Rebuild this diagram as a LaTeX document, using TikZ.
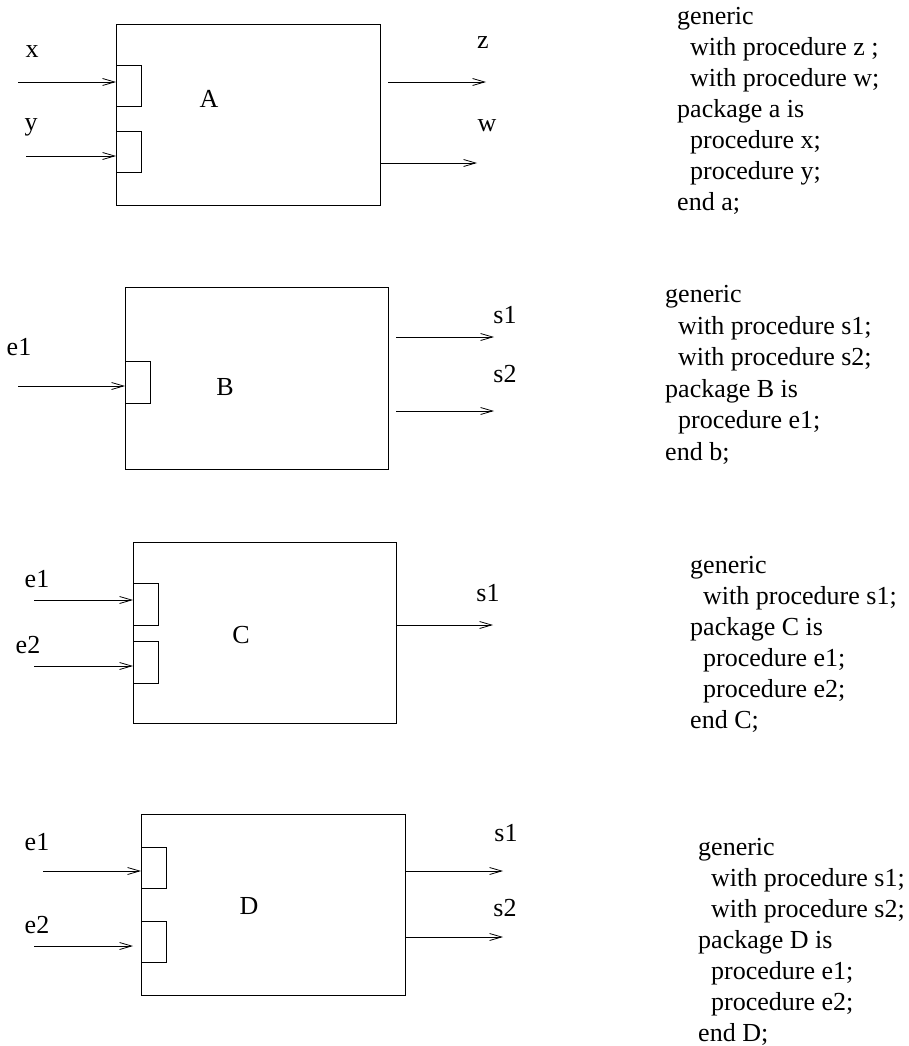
\documentclass[tikz,border=0pt]{standalone}
\usepackage{fontspec}
\setmainfont{Liberation Serif}
\usetikzlibrary{arrows.meta}
\newcommand{\ind}{\hspace*{13pt}}

\begin{document}
\begin{tikzpicture}[x=1pt,y=-1pt,
    blk/.style={draw,line width=.9pt,inner sep=0pt,anchor=north west},
    port/.style={blk,minimum width=25pt,minimum height=41pt},
    sig/.style={line width=.8pt,-{Straight Barb[length=12pt,width=7pt]}},
    lbl/.style={inner sep=0pt,font=\fontsize{26}{31}\selectfont},
    code/.style={inner sep=0pt,anchor=base west,align=left,font=\fontsize{26}{31}\selectfont}]

	\useasboundingbox (0,0) rectangle (909,1046);

	% package A
	\node[blk,minimum width=264pt,minimum height=181pt] (A) at (116,24) {};
	\node[port] (A1) at (116,65) {}; \node[port] (A2) at (116,131) {};
	\node[lbl] (labA) at (209,99) {A};
	\coordinate (xin) at (18,82); \coordinate (yin) at (26,156);
	\coordinate (zs) at (388,82); \coordinate (ze) at (486,82);
	\coordinate (we) at (477,163);
	\draw[sig] (xin) -- (xin -| A1.west); \draw[sig] (yin) -- (yin -| A2.west);
	\draw[sig] (zs) -- (ze); \draw[sig] (we -| A.east) -- (we);
	\node[lbl] (lx) at (32,52) {x}; \node[lbl] (ly) at (31,127) {y};
	\node[lbl] (lz) at (483,43) {z}; \node[lbl] (lw) at (487,126) {w};
	% base of a code block = baseline of its last line
	\node[code] (codeA) at (677,210) {generic\\ \ind with procedure z ;\\
        \ind with procedure w;\\ package a is\\ \ind procedure x;\\
        \ind procedure y;\\ end a;};

	% package B
	\node[blk,minimum width=263pt,minimum height=182pt] (B) at (125,287) {};
	\node[port,minimum height=42pt] (B1) at (125,361) {};
	\node[lbl] (labB) at (225,387) {B};
	\coordinate (bin) at (18,386);
	\coordinate (bs1) at (396,337); \coordinate (be1) at (494,337);
	\coordinate (bs2) at (396,411); \coordinate (be2) at (494,411);
	\draw[sig] (bin) -- (bin -| B1.west);
	\draw[sig] (bs1) -- (be1); \draw[sig] (bs2) -- (be2);
	\node[lbl] (lbe1) at (19,347) {e1};
	\node[lbl] (lbs1) at (505,315) {s1}; \node[lbl] (lbs2) at (505,374) {s2};
	\node[code,font=\fontsize{26}{31.5}\selectfont] (codeB) at (665,460)
        {generic\\ \ind with procedure s1;\\
        \ind with procedure s2;\\ package B is\\ \ind procedure e1;\\
        end b;};

	% package C
	\node[blk,minimum width=263pt,minimum height=181pt] (C) at (133,542) {};
	\node[port,minimum height=42pt] (C1) at (133,583) {};
	\node[port,minimum height=42pt] (C2) at (133,641) {};
	\node[lbl] (labC) at (241,635) {C};
	\coordinate (cin1) at (34,600); \coordinate (cin2) at (34,666);
	\coordinate (ce1) at (493,625);
	\draw[sig] (cin1) -- (cin1 -| C1.west); \draw[sig] (cin2) -- (cin2 -| C2.west);
	\draw[sig] (ce1 -| C.east) -- (ce1);
	\node[lbl] (lce1) at (37,579) {e1}; \node[lbl] (lce2) at (28,645) {e2};
	\node[lbl] (lcs1) at (488,593) {s1};
	\node[code] (codeC) at (690,728) {generic\\ \ind with procedure s1;\\
        package C is\\ \ind procedure e1;\\ \ind procedure e2;\\ end C;};

	% package D
	\node[blk,minimum width=264pt,minimum height=181pt] (D) at (141,814) {};
	\node[port] (D1) at (141,847) {}; \node[port] (D2) at (141,921) {};
	\node[lbl] (labD) at (249,906) {D};
	\coordinate (din1) at (43,871); \coordinate (din2) at (34,946);
	\coordinate (dd2) at (133,946);
	\coordinate (de1) at (503,871); \coordinate (de2) at (503,937);
	\draw[sig] (din1) -- (din1 -| D1.west); \draw[sig] (din2) -- (dd2);
	\draw[sig] (de1 -| D.east) -- (de1); \draw[sig] (de2 -| D.east) -- (de2);
	\node[lbl] (lde1) at (37,842) {e1}; \node[lbl] (lde2) at (37,925) {e2};
	\node[lbl] (lds1) at (506,833) {s1}; \node[lbl] (lds2) at (505,908) {s2};
	\node[code] (codeD) at (698,1041) {generic\\ \ind with procedure s1;\\
        \ind with procedure s2;\\ package D is\\ \ind procedure e1;\\
        \ind procedure e2;\\ end D;};
\end{tikzpicture}
\end{document}
